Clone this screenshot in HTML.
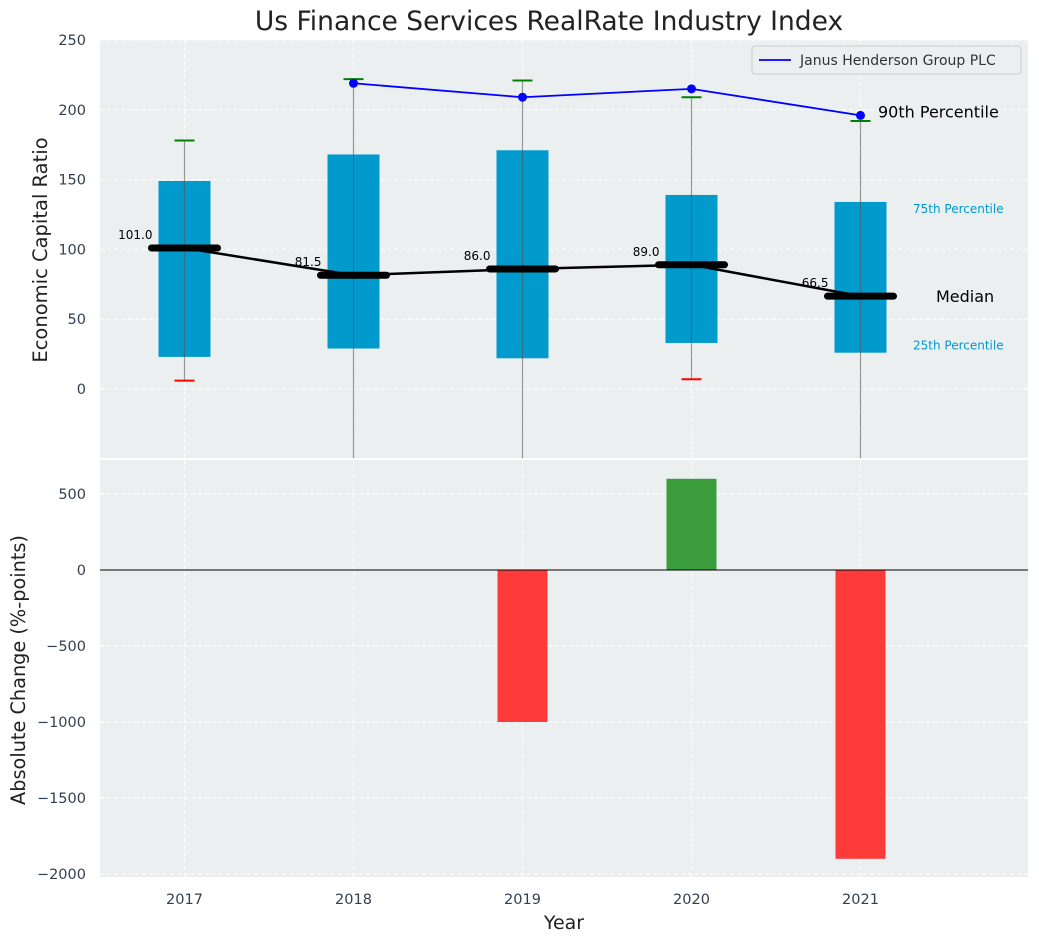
<!DOCTYPE html>
<html><head><meta charset="utf-8"><style>
body{margin:0;background:#fff;font-family:"Liberation Sans","DejaVu Sans",sans-serif}
svg text{font-family:"DejaVu Sans","Liberation Sans",sans-serif}
</style></head><body>
<svg id="c" width="1039" height="942" xmlns="http://www.w3.org/2000/svg"></svg>
<script>
const years=[2017,2018,2019,2020,2021];
const q25=[23,29,22,33,26];
const q75=[149,168,171,139,134];
const med=[101,81.5,86,89,66.5];
const whiskTop=[178,222,221,209,192];
const whiskBot=[6,-60,-60,7,-60];
const p90Years=[2018,2019,2020,2021];
const p90=[219,209,215,196];
const changeVals=[0,0,-1000,600,-1900];
const topTicks=[0,50,100,150,200,250];
const botTicks=[500,0,-500,-1000,-1500,-2000];

const S=document.getElementById('c'),NS='http://www.w3.org/2000/svg';
function el(t,a,p){const e=document.createElementNS(NS,t);for(const k in a)e.setAttribute(k,a[k]);(p||S).appendChild(e);return e;}
const L=100,R=1028;
const X=v=>L+(v-2016.5)*169;
const T0=40,T1=458,Y1=v=>389-v*1.396;
const B0=460,B1=877,Y2=v=>570-v*0.152;

let r=el('rect',{x:L,y:T0,width:R-L,height:T1-T0,fill:'#ebeff0'});

r=el('rect',{x:L,y:B0,width:R-L,height:B1-B0,fill:'#ebeff0'});


years.forEach(y=>{
 el('line',{x1:X(y),x2:X(y),y1:T0,y2:T1,stroke:'#fff','stroke-dasharray':'4,3'});
 el('line',{x1:X(y),x2:X(y),y1:B0,y2:B1,stroke:'#fff','stroke-dasharray':'4,3'});
 const t=el('text',{x:X(y),y:904,'text-anchor':'middle','font-size':14.5,fill:'#333f50'});t.textContent=y;
 
});
topTicks.forEach(v=>{
 el('line',{x1:L,x2:R,y1:Y1(v),y2:Y1(v),stroke:'#fff','stroke-dasharray':'4,3'});
 const t=el('text',{x:86,y:Y1(v)+5,'text-anchor':'end','font-size':14.5,fill:'#333f50'});t.textContent=v;
 
});
botTicks.forEach(v=>{
 el('line',{x1:L,x2:R,y1:Y2(v),y2:Y2(v),stroke:'#fff','stroke-dasharray':'4,3'});
 const t=el('text',{x:86,y:Y2(v)+5,'text-anchor':'end','font-size':14.5,fill:'#333f50'});t.textContent=(v<0?'\u2212'+(-v):v);
 
});

const clipTop=el('clipPath',{id:'ct'});el('rect',{x:L,y:T0,width:R-L,height:T1-T0},clipTop);
const g=el('g',{'clip-path':'url(#ct)'});
years.forEach((y,i)=>{
 const b=el('rect',{x:X(y)-26,y:Y1(q75[i]),width:52,height:Y1(q25[i])-Y1(q75[i]),fill:'#009acd'},g);
 
 el('line',{x1:X(y),x2:X(y),y1:Y1(whiskTop[i]),y2:Y1(whiskBot[i]),stroke:'#555','stroke-opacity':0.6,'stroke-width':1.2},g);
 el('line',{x1:X(y)-10,x2:X(y)+10,y1:Y1(whiskTop[i]),y2:Y1(whiskTop[i]),stroke:'green','stroke-width':2},g);
 if(whiskBot[i]>-49) el('line',{x1:X(y)-10,x2:X(y)+10,y1:Y1(whiskBot[i]),y2:Y1(whiskBot[i]),stroke:'red','stroke-width':2},g);
});
const mp=el('polyline',{points:years.map((y,i)=>X(y)+','+Y1(med[i])).join(' '),fill:'none',stroke:'#000','stroke-width':2.5},g);

years.forEach((y,i)=>{
 const m=el('line',{x1:X(y)-33,x2:X(y)+33,y1:Y1(med[i]),y2:Y1(med[i]),stroke:'#000','stroke-width':7,'stroke-linecap':'round'},g);
 
 const t=el('text',{x:X(y)-32,y:Y1(med[i])-9,'text-anchor':'end','font-size':12,fill:'#000'},g);t.textContent=med[i].toFixed(1);
 
});
const pl=el('polyline',{points:p90Years.map((y,i)=>X(y)+','+Y1(p90[i])).join(' '),fill:'none',stroke:'blue','stroke-width':1.8},g);

p90Years.forEach((y,i)=>{const c=el('circle',{cx:X(y),cy:Y1(p90[i]),r:4.5,fill:'blue'},g);
 });

let t=el('text',{x:878,y:Y1(p90[3])+2,'font-size':16,fill:'#000'});t.textContent='90th Percentile';

t=el('text',{x:913,y:Y1(q75[4])+11,'font-size':12,fill:'#009acd'});t.textContent='75th Percentile';

t=el('text',{x:913,y:Y1(q25[4])-3,'font-size':12,fill:'#009acd'});t.textContent='25th Percentile';

t=el('text',{x:936,y:Y1(med[4])+6,'font-size':16,fill:'#000'});t.textContent='Median';


const lg=el('g',{});
el('rect',{x:752,y:46,width:269,height:28,rx:3,fill:'#ebeff0',stroke:'#ccc'},lg);
el('line',{x1:759,x2:791,y1:60,y2:60,stroke:'blue','stroke-width':1.8},lg);
t=el('text',{x:800,y:65,'font-size':14,fill:'#333'},lg);t.textContent='Janus Henderson Group PLC';

years.forEach((y,i)=>{const v=changeVals[i];if(!v)return;
 const b=el('rect',{x:X(y)-25,y:Math.min(Y2(0),Y2(v)),width:50,height:Math.abs(Y2(v)-Y2(0)),fill:v>0?'#3a9c3a':'#fd3a3a'});
 });
el('line',{x1:L,x2:R,y1:Y2(0),y2:Y2(0),stroke:'#000','stroke-width':1});

t=el('text',{x:549,y:30,'text-anchor':'middle','font-size':26.5,fill:'#222'});t.textContent='Us Finance Services RealRate Industry Index';

t=el('text',{x:0,y:0,'text-anchor':'middle','font-size':19.5,fill:'#222',transform:'translate(47,250) rotate(-90)'});t.textContent='Economic Capital Ratio';

t=el('text',{x:0,y:0,'text-anchor':'middle','font-size':19.3,fill:'#222',transform:'translate(25,670) rotate(-90)'});t.textContent='Absolute Change (%-points)';

t=el('text',{x:564,y:929,'text-anchor':'middle','font-size':19,fill:'#222'});t.textContent='Year';

</script>
</body></html>
